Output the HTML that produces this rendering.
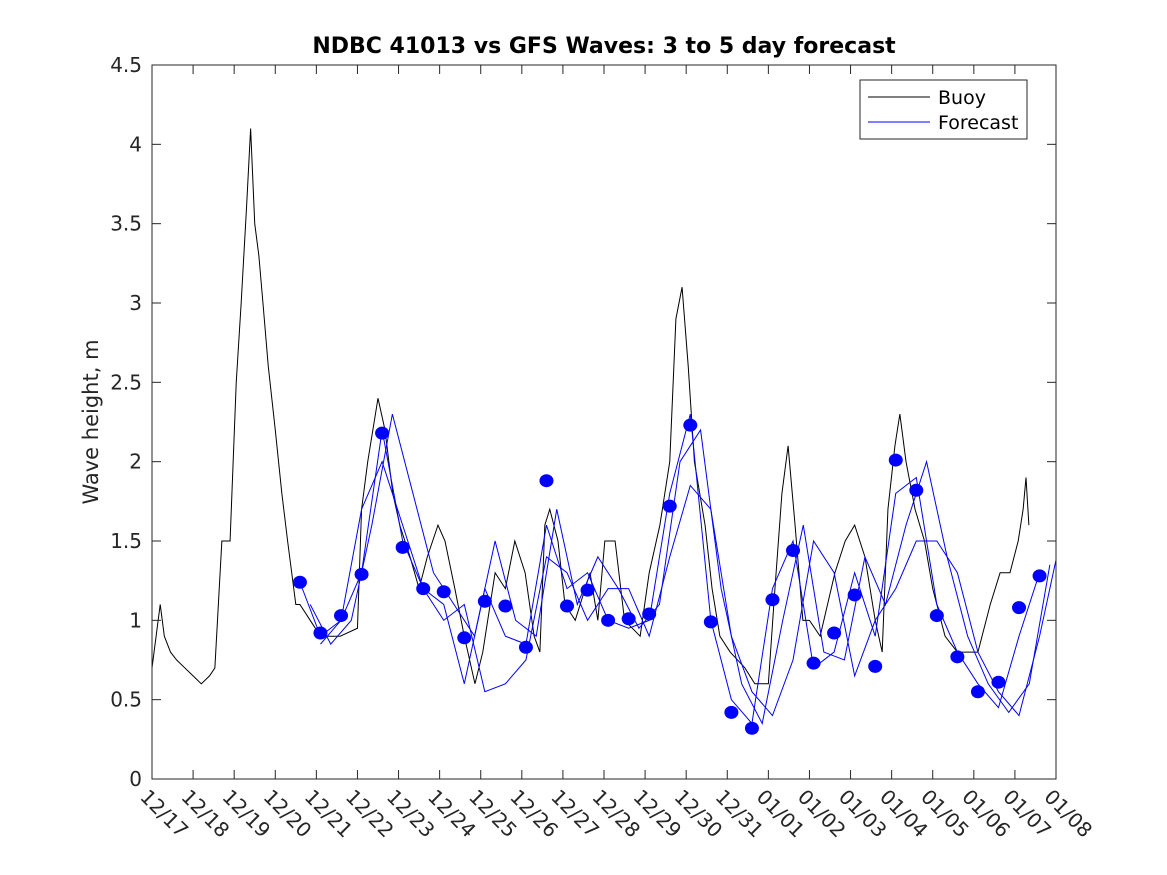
<!DOCTYPE html>
<html><head><meta charset="utf-8"><style>body{margin:0;background:#fff}svg{display:block;font-family:"DejaVu Sans","Liberation Sans",sans-serif}</style></head>
<body>
<svg id="c" width="1167" height="875"></svg>
<script>
const xTicks=["12/17","12/18","12/19","12/20","12/21","12/22","12/23","12/24","12/25","12/26","12/27","12/28","12/29","12/30","12/31","01/01","01/02","01/03","01/04","01/05","01/06","01/07","01/08"];
const yTicks=[0,0.5,1,1.5,2,2.5,3,3.5,4,4.5];
const buoyDays=[0,0.1,0.2,0.3,0.45,0.6,0.8,1.0,1.2,1.4,1.53,1.7,1.9,2.05,2.17,2.3,2.4,2.5,2.6,2.7,2.83,3.0,3.16,3.3,3.5,3.6,3.85,4.1,4.58,5.0,5.1,5.25,5.5,5.67,5.86,6.03,6.28,6.5,6.7,6.96,7.13,7.37,7.6,7.86,8.05,8.35,8.6,8.83,9.08,9.3,9.44,9.56,9.68,9.88,10.05,10.3,10.66,10.85,11.02,11.27,11.5,11.88,12.1,12.36,12.6,12.75,12.9,13.05,13.2,13.46,13.63,13.82,14.07,14.43,14.67,15.0,15.16,15.33,15.48,15.65,15.84,16.0,16.26,16.62,16.87,17.1,17.35,17.6,17.77,17.91,18.08,18.2,18.35,18.57,18.8,19.0,19.3,19.6,19.9,20.1,20.4,20.64,20.88,21.08,21.2,21.27,21.34];
const buoyVals=[0.7,0.9,1.1,0.9,0.8,0.75,0.7,0.65,0.6,0.65,0.7,1.5,1.5,2.5,3.0,3.6,4.1,3.5,3.3,3.0,2.6,2.2,1.8,1.5,1.1,1.1,1.0,0.9,0.9,0.95,1.7,2.0,2.4,2.2,1.8,1.6,1.4,1.2,1.4,1.6,1.5,1.2,0.9,0.6,0.8,1.3,1.2,1.5,1.3,0.9,0.8,1.6,1.7,1.5,1.1,1.0,1.3,1.0,1.5,1.5,1.0,0.9,1.3,1.6,2.0,2.9,3.1,2.6,2.0,1.6,1.2,0.9,0.8,0.7,0.6,0.6,1.2,1.8,2.1,1.6,1.0,1.0,0.9,1.3,1.5,1.6,1.4,1.0,0.8,1.7,2.1,2.3,2.0,1.7,1.5,1.2,0.9,0.8,0.8,0.8,1.1,1.3,1.3,1.5,1.7,1.9,1.6];
const dotStart=3.6, dotStep=0.5;
const dotVals=[1.24,0.92,1.03,1.29,2.18,1.46,1.20,1.18,0.89,1.12,1.09,0.83,1.88,1.09,1.19,1.00,1.01,1.04,1.72,2.23,0.99,0.42,0.32,1.13,1.44,0.73,0.92,1.16,0.71,2.01,1.82,1.03,0.77,0.55,0.61,1.08,1.28];
const fcA=[1.24,0.9,1.0,1.3,2.2,1.5,1.2,1.1,0.6,1.2,0.9,0.85,1.6,1.2,1.3,1.0,0.95,1.0,1.8,2.3,1.0,0.5,0.35,1.2,1.5,0.7,0.8,1.3,0.9,1.8,1.9,1.1,0.8,0.6,0.45,0.9,1.3];
const fcB=[1.1,0.85,1.0,1.6,2.3,1.8,1.3,1.1,0.9,1.5,1.0,0.9,1.7,1.1,1.4,1.2,0.95,1.1,2.0,2.2,1.2,0.6,0.35,1.0,1.6,0.8,0.75,1.4,1.1,1.6,2.0,1.4,0.9,0.6,0.42,0.6,1.35];
const fcC=[0.85,1.0,1.7,2.0,1.6,1.2,1.0,1.1,0.55,0.6,0.75,1.4,1.3,1.0,1.2,1.2,0.9,1.4,1.85,1.7,0.9,0.55,0.4,0.75,1.5,1.3,0.65,1.0,1.2,1.5,1.5,1.3,0.8,0.55,0.4,0.9,1.5];
const fcStarts=[3.6,3.85,4.1];

const NS="http://www.w3.org/2000/svg", svg=document.getElementById('c');
const L=152,R=1056,T=65,B=779;
const X=d=>L+(R-L)*d/22, Y=v=>B-(B-T)*v/4.5;
function mk(t,a,p){const e=document.createElementNS(NS,t);for(const k in a)e.setAttribute(k,a[k]);(p||svg).appendChild(e);return e;}
const bg=mk('rect',{x:L,y:T,width:R-L,height:B-T,fill:'#fff',stroke:'none'});


const clip=mk('clipPath',{id:'cp'});mk('rect',{x:L,y:T,width:R-L,height:B-T},clip);
const g=mk('g',{'clip-path':'url(#cp)'});


const bp=mk('polyline',{points:buoyDays.map((d,i)=>X(d)+','+Y(buoyVals[i])).join(' '),fill:'none',stroke:'#000','stroke-width':1},g);


[fcA,fcB,fcC].forEach((arr,k)=>{
  const p=mk('polyline',{points:arr.map((v,i)=>X(fcStarts[k]+i*0.5)+','+Y(v)).join(' '),fill:'none',stroke:'#0000ff','stroke-width':1},g);
  
  
});
dotVals.forEach((v,i)=>{
  const c=mk('ellipse',{cx:X(dotStart+i*dotStep),cy:Y(v),rx:7,ry:6.5,fill:'#0000ff'},g);
  
  
});
const box=mk('rect',{x:L,y:T,width:R-L,height:B-T,fill:'none',stroke:'#262626','stroke-width':1});


yTicks.forEach(v=>{
  mk('line',{x1:L,x2:L+9,y1:Y(v),y2:Y(v),stroke:'#262626'});
  mk('line',{x1:R,x2:R-9,y1:Y(v),y2:Y(v),stroke:'#262626'});
  const t=mk('text',{x:L-10,y:Y(v)+7,'text-anchor':'end','font-size':20,fill:'#262626'});t.textContent=String(v);
  
  
});
xTicks.forEach((s,i)=>{
  const x=X(i);
  mk('line',{x1:x,x2:x,y1:B,y2:B-9,stroke:'#262626'});
  mk('line',{x1:x,x2:x,y1:T,y2:T+9,stroke:'#262626'});
  const t=mk('text',{x:x-13,y:B+19,'font-size':20,fill:'#262626',transform:`rotate(45 ${x-13} ${B+19})`});t.textContent=s;
  
  
});
const ti=mk('text',{x:604,y:53,'text-anchor':'middle','font-size':22,'font-weight':'bold',fill:'#000'});ti.textContent='NDBC 41013 vs GFS Waves: 3 to 5 day forecast';


const yl=mk('text',{x:98,y:422,'text-anchor':'middle','font-size':21,fill:'#262626',transform:'rotate(-90 98 422)'});yl.textContent='Wave height, m';


const lg=mk('g',{});


mk('rect',{x:860,y:80,width:167,height:59,fill:'#fff',stroke:'#262626'},lg);
mk('line',{x1:868,x2:930,y1:97,y2:97,stroke:'#000'},lg);
mk('line',{x1:868,x2:930,y1:122,y2:122,stroke:'#0000ff'},lg);
const l1=mk('text',{x:938,y:104,'font-size':19,fill:'#000'},lg);l1.textContent='Buoy';


const l2=mk('text',{x:938,y:129,'font-size':19,fill:'#000'},lg);l2.textContent='Forecast';


</script>
</body></html>
